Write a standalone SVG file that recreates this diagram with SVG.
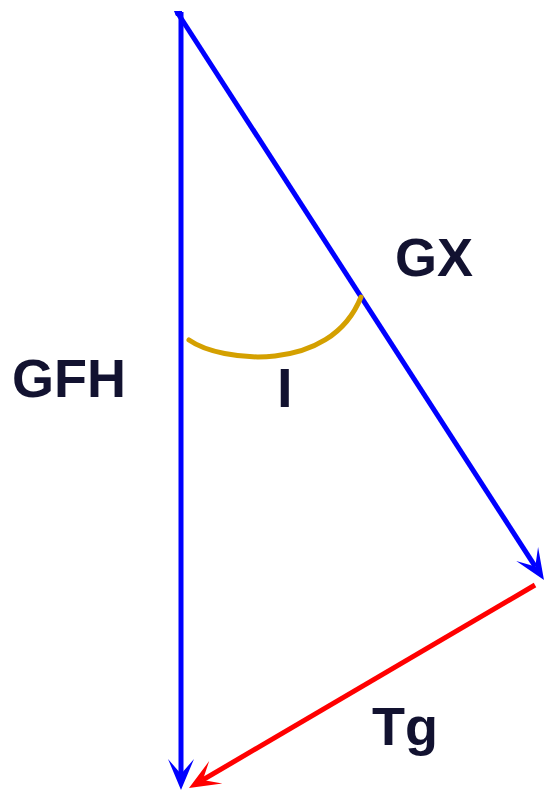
<svg xmlns="http://www.w3.org/2000/svg" width="547" height="792" viewBox="0 0 547 792">
<style>
.lbl{font-family:"Liberation Sans",Arial,sans-serif;font-weight:bold;font-size:54px;fill:#121230}
.blue{stroke:#0000ff;stroke-width:5;fill:none}
.red{stroke:#ff0000;stroke-width:5;fill:none}
</style>
<defs>
<marker id="ab" markerUnits="userSpaceOnUse" markerWidth="34" markerHeight="30" viewBox="-18 -15 34 30" refX="0" refY="0" orient="auto" overflow="visible">
<path d="M16,0 L-15,-13 L0,0 L-15,13 Z" fill="#0000ff"/>
</marker>
<marker id="ar" markerUnits="userSpaceOnUse" markerWidth="34" markerHeight="30" viewBox="-18 -15 34 30" refX="0" refY="0" orient="auto" overflow="visible">
<path d="M16,0 L-15,-13 L0,0 L-15,13 Z" fill="#ff0000"/>
</marker>
</defs>
<rect width="547" height="792" fill="#ffffff"/>
<g id="connectors">
<line id="gfh" class="blue" x1="181" y1="12" x2="181" y2="774" marker-end="url(#ab)"/>
<line id="gx" class="blue" x1="177" y1="12" x2="535.3" y2="566.6" marker-end="url(#ab)"/>
<path d="M174,11 L182,11 L182,16 L176,16 Z" fill="#0000ff"/>
<line id="tg" class="red" x1="535" y1="585" x2="202.8" y2="779.9" marker-end="url(#ar)"/>
<path id="angle" d="M189,340 C220,362 330,375 361,297" stroke="#d4a000" stroke-width="5" fill="none" stroke-linecap="round"/>
</g>
<g id="label-gx"><text class="lbl" x="395" y="276">GX</text></g>
<g id="label-gfh"><text class="lbl" x="12" y="397">GFH</text></g>
<g id="label-i"><text class="lbl" x="277" y="407" style="font-size:56px">I</text></g>
<g id="label-tg"><text class="lbl" x="372" y="745">Tg</text></g>
</svg>
